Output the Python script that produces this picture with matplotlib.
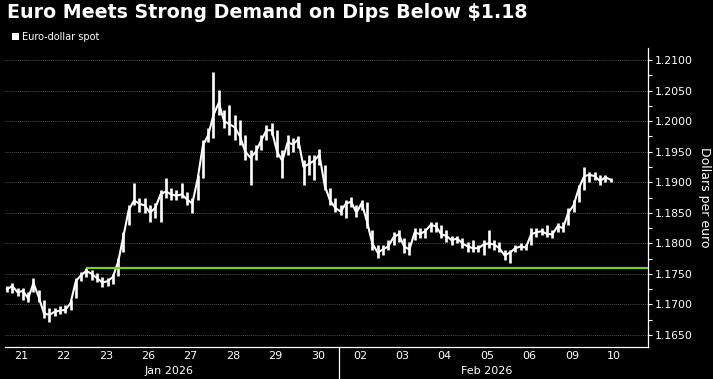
import numpy as np
import matplotlib
matplotlib.use("Agg")
import matplotlib.pyplot as plt
from matplotlib.patches import Rectangle

# trading days shown on the axis (weekends dropped)
day_labels = ["21", "22", "23", "26", "27", "28", "29", "30",
              "02", "03", "04", "05", "06", "09", "10"]
month_labels = ["Jan 2026", "Feb 2026"]
month_spans = [(0, 8), (8, 15)]

# EUR/USD bars, roughly 3-hourly
highs = [
    1.1730, 1.1735, 1.1727, 1.1727, 1.1720, 1.1743, 1.1724, 1.1707, 1.1694, 1.1694,
    1.1697, 1.1699, 1.1707, 1.1743, 1.1753, 1.1760, 1.1756, 1.1751, 1.1745, 1.1743,
    1.1750, 1.1776, 1.1818, 1.1862, 1.1898, 1.1874, 1.1874, 1.1862, 1.1866, 1.1887,
    1.1907, 1.1891, 1.1887, 1.1899, 1.1884, 1.1874, 1.1912, 1.1969, 1.1989, 1.2080,
    1.2051, 1.2018, 1.2026, 1.2010, 1.2002, 1.1977, 1.1953, 1.1961, 1.1977, 1.1994,
    1.1997, 1.1985, 1.1953, 1.1977, 1.1972, 1.1976, 1.1936, 1.1945, 1.1945, 1.1954,
    1.1928, 1.1891, 1.1874, 1.1863, 1.1871, 1.1876, 1.1863, 1.1871, 1.1868, 1.1822,
    1.1797, 1.1797, 1.1805, 1.1818, 1.1822, 1.1809, 1.1802, 1.1825, 1.1825, 1.1825,
    1.1835, 1.1835, 1.1830, 1.1822, 1.1812, 1.1812, 1.1809, 1.1802, 1.1805, 1.1797,
    1.1805, 1.1822, 1.1805, 1.1802, 1.1789, 1.1789, 1.1797, 1.1800, 1.1799, 1.1825,
    1.1825, 1.1825, 1.1830, 1.1822, 1.1833, 1.1835, 1.1858, 1.1871, 1.1896, 1.1925,
    1.1917, 1.1917, 1.1912, 1.1912, 1.1907,
]
lows = [
    1.1720, 1.1719, 1.1714, 1.1707, 1.1704, 1.1720, 1.1704, 1.1678, 1.1671, 1.1681,
    1.1684, 1.1686, 1.1691, 1.1711, 1.1738, 1.1745, 1.1740, 1.1737, 1.1729, 1.1730,
    1.1734, 1.1747, 1.1786, 1.1830, 1.1862, 1.1851, 1.1850, 1.1835, 1.1841, 1.1835,
    1.1874, 1.1871, 1.1871, 1.1874, 1.1862, 1.1850, 1.1871, 1.1907, 1.1966, 1.1972,
    1.2010, 1.1989, 1.1977, 1.1969, 1.1961, 1.1936, 1.1895, 1.1936, 1.1953, 1.1969,
    1.1977, 1.1941, 1.1907, 1.1945, 1.1950, 1.1956, 1.1895, 1.1912, 1.1904, 1.1928,
    1.1887, 1.1863, 1.1851, 1.1846, 1.1841, 1.1860, 1.1843, 1.1855, 1.1825, 1.1789,
    1.1776, 1.1781, 1.1789, 1.1797, 1.1802, 1.1784, 1.1781, 1.1805, 1.1809, 1.1809,
    1.1818, 1.1818, 1.1809, 1.1802, 1.1797, 1.1800, 1.1792, 1.1786, 1.1786, 1.1786,
    1.1781, 1.1792, 1.1789, 1.1786, 1.1773, 1.1768, 1.1786, 1.1789, 1.1789, 1.1797,
    1.1811, 1.1814, 1.1811, 1.1809, 1.1818, 1.1818, 1.1830, 1.1851, 1.1868, 1.1887,
    1.1900, 1.1904, 1.1896, 1.1900, 1.1900,
]
closes = [
    1.1725, 1.1730, 1.1720, 1.1722, 1.1710, 1.1735, 1.1712, 1.1685, 1.1683, 1.1688,
    1.1690, 1.1691, 1.1702, 1.1738, 1.1748, 1.1755, 1.1750, 1.1743, 1.1736, 1.1738,
    1.1745, 1.1770, 1.1812, 1.1855, 1.1870, 1.1865, 1.1862, 1.1850, 1.1858, 1.1880,
    1.1885, 1.1880, 1.1878, 1.1880, 1.1872, 1.1865, 1.1905, 1.1960, 1.1977, 1.2010,
    1.2030, 1.2000, 1.1995, 1.1990, 1.1975, 1.1950, 1.1940, 1.1950, 1.1968, 1.1985,
    1.1985, 1.1950, 1.1935, 1.1965, 1.1962, 1.1970, 1.1925, 1.1930, 1.1935, 1.1945,
    1.1895, 1.1870, 1.1858, 1.1852, 1.1865, 1.1868, 1.1850, 1.1866, 1.1835, 1.1800,
    1.1785, 1.1790, 1.1795, 1.1810, 1.1815, 1.1795, 1.1790, 1.1818, 1.1815, 1.1820,
    1.1830, 1.1828, 1.1815, 1.1812, 1.1805, 1.1808, 1.1800, 1.1795, 1.1792, 1.1792,
    1.1798, 1.1800, 1.1798, 1.1792, 1.1780, 1.1785, 1.1792, 1.1795, 1.1793, 1.1815,
    1.1818, 1.1820, 1.1815, 1.1815, 1.1828, 1.1825, 1.1850, 1.1862, 1.1890, 1.1910,
    1.1912, 1.1910, 1.1902, 1.1908, 1.1904,
]

# support line drawn from the Jan 22 high
support_level = 1.1760
support_from_bar = 15

yticks = [1.1650, 1.1700, 1.1750, 1.1800, 1.1850, 1.1900, 1.1950, 1.2000, 1.2050, 1.2100]

W, H = 713, 379
fig = plt.figure(figsize=(W / 100, H / 100), dpi=100, facecolor="black")
ax = fig.add_axes([5 / W, 1 - 347 / H, 643 / W, 299 / H], facecolor="black")

# x in trading-day units, 8 bars per day
bar_x = 0.165 + 0.125 * np.arange(len(highs))

ax.vlines(bar_x, lows, highs, color="white", lw=1.9)
ax.plot(bar_x, closes, color="white", lw=1.5)

ax.hlines(support_level, bar_x[support_from_bar], 15.3, color="#76d11a", lw=1.6, zorder=3)

ax.set_xlim(5 / 42.36, 648 / 42.36)
ax.set_ylim(1.16304, 1.21196)

# axes styling
for side in ["left", "top"]:
    ax.spines[side].set_visible(False)
for side in ["right", "bottom"]:
    ax.spines[side].set_color("white")
    ax.spines[side].set_linewidth(0.9)

ax.yaxis.tick_right()
ax.set_yticks(yticks)
ax.set_yticklabels([f"{v:.4f}" for v in yticks])
ax.set_yticks([v + 0.0025 for v in yticks[:-1]], minor=True)
ax.tick_params(axis="y", which="major", colors="white", labelsize=7.8, length=3, width=0.8, pad=2)
ax.tick_params(axis="y", which="minor", colors="white", length=3, width=0.8)
ax.yaxis.grid(True, color="#6a6a6a", linestyle=(0, (1, 1.5)), lw=0.6)
ax.set_axisbelow(True)
ax.yaxis.set_label_position("right")
ax.set_ylabel("Dollars per euro", color="white", fontsize=9, rotation=270, labelpad=13)

ax.set_xticks(np.arange(len(day_labels)) + 0.5)
ax.set_xticklabels(day_labels)
ax.tick_params(axis="x", colors="white", labelsize=8, length=0, pad=3)

for label, (a, b) in zip(month_labels, month_spans):
    ax.text((a + b) / 2, -0.062, label, transform=ax.get_xaxis_transform(),
            color="white", fontsize=8, ha="center", va="top")

# month separator below the axis
ax.plot([8, 8], [0, -0.12], transform=ax.get_xaxis_transform(), color="white",
        lw=0.9, clip_on=False)

fig.text(7 / W, 1 - 18 / H, "Euro Meets Strong Demand on Dips Below $1.18",
         color="white", fontsize=13.7, fontweight="bold", va="baseline", ha="left")
fig.patches.append(Rectangle((12 / W, 1 - 40 / H), 7 / W, 7 / H, transform=fig.transFigure,
                             facecolor="white", edgecolor="none"))
fig.text(22 / W, 1 - 40.5 / H, "Euro-dollar spot", color="white", fontsize=7,
         va="baseline", ha="left")

fig.savefig("out.png", dpi=100, facecolor="black")
